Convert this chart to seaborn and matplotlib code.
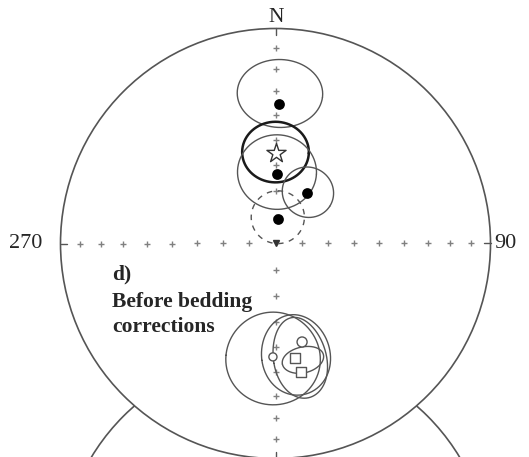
import numpy as np
import pandas as pd
import matplotlib
matplotlib.use("Agg")
import matplotlib.pyplot as plt
import seaborn as sns

# lower hemisphere site means (filled dots)
site_dec = [1.4, 1.2, 32.0, 6.0]
site_inc = [35.4, 63.6, 67.4, 80.7]

# overall mean (open star)
mean_dec = [0.0]
mean_inc = [55.4]

# upper hemisphere sites (open symbols)
open_circ_dec = [164.9, 181.3]
open_circ_inc = [-50.8, -46.2]
open_sq_dec = [170.3, 168.8]
open_sq_inc = [-45.1, -39.0]

# confidence cones: centre dec/inc and semi-axes (tangential, radial), degrees
cone_dec = [1.7, 0.0, 1.2, 32.3, 5.0, 181.2, 169.7, 168.0, 166.7]
cone_inc = [30.3, 54.8, 62.6, 66.9, 80.0, -44.9, -45.8, -44.3, -43.6]
cone_a1 = [14.0, 12.0, 14.5, 9.6, 10.0, 16.5, 12.0, 9.2, 7.3]
cone_a2 = [14.8, 12.0, 14.5, 9.6, 10.0, 19.0, 16.5, 16.8, 5.3]

tick_incs = [10, 20, 30, 40, 50, 60, 70, 80]
tick_decs = [0, 90, 180, 270]


def to_xyz(dec, inc):
    d, i = np.radians(dec), np.radians(inc)
    return np.array([np.cos(i) * np.cos(d), np.cos(i) * np.sin(d), np.sin(i)])


def project(v):
    # equal area (Schmidt), both hemispheres folded on the same net
    x, y, z = v
    theta = np.arccos(np.clip(np.abs(z), 0, 1))
    rho = np.sqrt(2) * np.sin(theta / 2)
    az = np.arctan2(y, x)
    return rho * np.sin(az), rho * np.cos(az)


def cone(dec, inc, a1, a2, n=300):
    c = to_xyz(dec, inc)
    d = np.radians(dec)
    e1 = np.array([-np.sin(d), np.cos(d), 0.0])
    e2 = np.cross(c, e1)
    t = np.linspace(0, 2 * np.pi, n)
    A1, A2 = np.radians(a1), np.radians(a2)
    r = A1 * A2 / np.sqrt((A2 * np.cos(t)) ** 2 + (A1 * np.sin(t)) ** 2)
    u = np.outer(e1, np.cos(t)) + np.outer(e2, np.sin(t))
    v = np.outer(c, np.cos(r)) + u * np.sin(r)
    return project(v)


def points_df(decs, incs):
    px, py = project(to_xyz(np.array(decs), np.array(incs)))
    return pd.DataFrame({"x": px, "y": py})


sns.set_style("white")
plt.rcParams["font.family"] = ["Liberation Serif", "DejaVu Serif"]

fig = plt.figure(figsize=(5.29, 4.57), dpi=100)
ax = fig.add_axes([0, 0, 1, 1])
ax.set_xlim(-275.5 / 215, 253.5 / 215)
ax.set_ylim(-213.5 / 215, 243.5 / 215)
ax.set_aspect("equal")
ax.axis("off")

# next net below (hidden behind this one)
ax.add_patch(plt.Circle((0, -1.51), 1.0, fc="white", ec="#555555", lw=1.2, zorder=0))
# the net itself
ax.add_patch(plt.Circle((0, 0), 1.0, fc="white", ec="#555555", lw=1.2, zorder=1))

# graticule crosses
tk = pd.DataFrame([(d, i) for d in tick_decs for i in tick_incs], columns=["dec", "inc"])
tdf = points_df(tk["dec"], tk["inc"])
ax.plot(tdf["x"], tdf["y"], "+", ms=4.5, mew=1.0, color="#808080", zorder=2)
ax.plot([0], [0], "v", ms=4, color="#333333", zorder=2)
for d in tick_decs:
    a = np.radians(d)
    ax.plot([0.972 * np.sin(a), np.sin(a)], [0.972 * np.cos(a), np.cos(a)],
            color="#555555", lw=1.0, zorder=2)

# cones of confidence
styles = {1: dict(color="#1a1a1a", lw=1.8), 4: dict(color="#555555", lw=1.0, ls=(0, (4, 4)))}
for k in range(len(cone_dec)):
    cx, cy = cone(cone_dec[k], cone_inc[k], cone_a1[k], cone_a2[k])
    st = styles.get(k, dict(color="#555555", lw=1.0))
    ax.plot(cx, cy, zorder=3, **st)

# symbols
sns.scatterplot(data=points_df(site_dec, site_inc), x="x", y="y", ax=ax, marker="o",
                s=60, color="black", edgecolor="black", linewidth=0, zorder=5)
sns.scatterplot(data=points_df(mean_dec, mean_inc), x="x", y="y", ax=ax, marker="*",
                s=210, facecolor="white", edgecolor="#333333", linewidth=1.0, zorder=5)
oc = points_df(open_circ_dec, open_circ_inc)
sns.scatterplot(data=oc, x="x", y="y", ax=ax, marker="o", s=[52, 34],
                facecolor="white", edgecolor="#555555", linewidth=1.0, zorder=5)
sns.scatterplot(data=points_df(open_sq_dec, open_sq_inc), x="x", y="y", ax=ax, marker="s",
                s=42, facecolor="white", edgecolor="#555555", linewidth=1.0, zorder=5)

# labels
ax.text(0.005, 1.053, "N", ha="center", va="center", fontsize=15.5, zorder=6)
ax.text(-1.163, 0.0, "270", ha="center", va="center", fontsize=16, zorder=6)
ax.text(1.067, 0.0, "90", ha="center", va="center", fontsize=16, zorder=6)
ax.text(-0.76, -0.142, "d)", ha="left", va="center", fontsize=15.5, fontweight="bold", zorder=6)
ax.text(-0.76, -0.272, "Before bedding", ha="left", va="center", fontsize=15.5,
        fontweight="bold", zorder=6)
ax.text(-0.76, -0.388, "corrections", ha="left", va="center", fontsize=15.5,
        fontweight="bold", zorder=6)

fig.savefig("out.png", dpi=100)
